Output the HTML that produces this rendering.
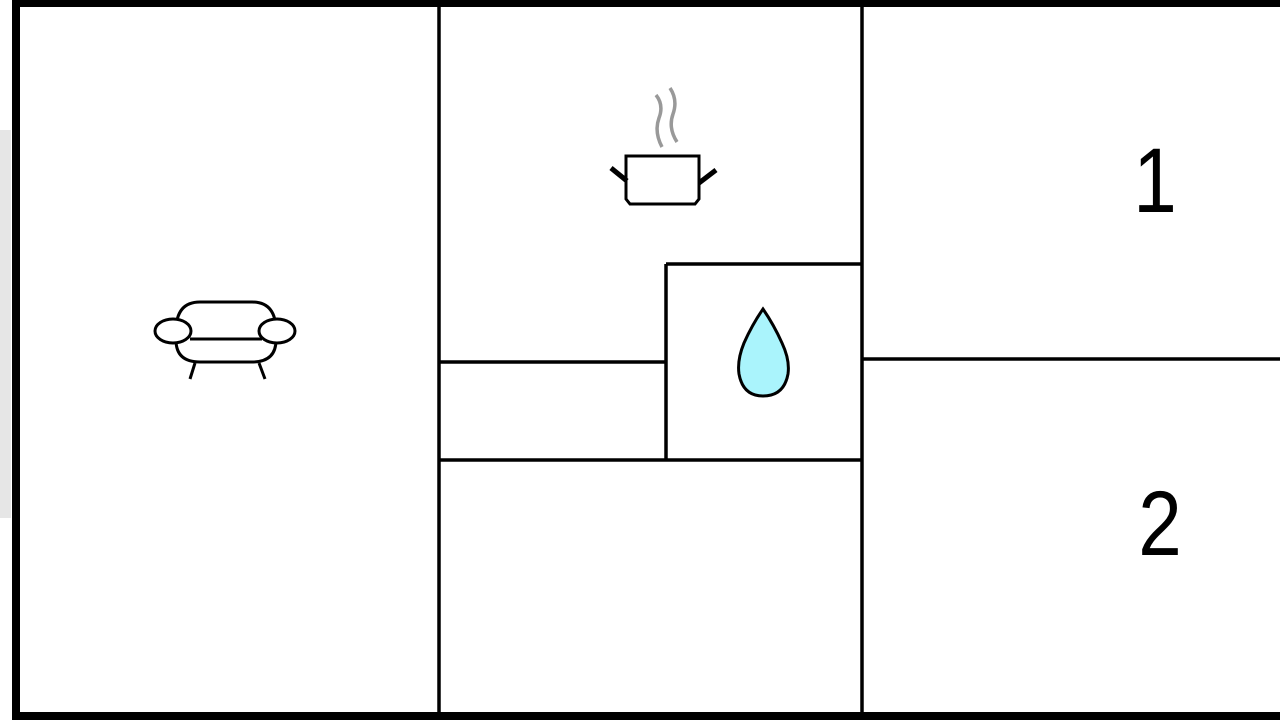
<!DOCTYPE html>
<html><head><meta charset="utf-8"><style>html,body{margin:0;padding:0;background:#fff;width:1280px;height:720px;overflow:hidden}</style></head>
<body>
<svg width="1280" height="720" viewBox="0 0 1280 720" xmlns="http://www.w3.org/2000/svg">
<rect x="0" y="0" width="1280" height="720" fill="#fff"/>
<rect x="0" y="130" width="11" height="388" fill="#e6e6e6"/>
<rect x="12" y="0" width="8" height="720" fill="#000"/>
<rect x="12" y="0" width="1268" height="7" fill="#000"/>
<rect x="12" y="712" width="1268" height="8" fill="#000"/>
<g stroke="#000" stroke-width="3.5" fill="none">
<line x1="439" y1="6" x2="439" y2="713"/>
<line x1="862" y1="6" x2="862" y2="713"/>
<line x1="439" y1="362" x2="666" y2="362"/>
<line x1="439" y1="460" x2="862" y2="460"/>
<line x1="666" y1="264" x2="666" y2="460"/>
<line x1="666" y1="264" x2="862" y2="264"/>
<line x1="862" y1="359" x2="1280" y2="359"/>
</g>
<g stroke="#000" stroke-width="3" fill="#fff">
<path d="M176 331 Q176 302 200 302 L252 302 Q276 302 276 331 L276 340 Q276 362 252 362 L200 362 Q176 362 176 340 Z"/>
<line x1="190" y1="339" x2="262" y2="339"/>
<ellipse cx="173" cy="331" rx="18" ry="12"/>
<ellipse cx="277" cy="331" rx="18" ry="12"/>
<line x1="195" y1="363" x2="190" y2="379"/>
<line x1="259" y1="363" x2="265" y2="379"/>
</g>
<g fill="none">
<path d="M656 95 Q664 105 659 118 Q654 132 662 147" stroke="#999" stroke-width="3.5"/>
<path d="M670 88 Q678 100 673 114 Q668 128 677 142" stroke="#999" stroke-width="3.5"/>
<path d="M626 156 L699 156 L699 199 L695 204 L630 204 L626 199 Z" stroke="#000" stroke-width="3" fill="#fff"/>
<line x1="611" y1="168" x2="627" y2="181" stroke="#000" stroke-width="5"/>
<line x1="716" y1="170" x2="699" y2="183" stroke="#000" stroke-width="5"/>
</g>
<path d="M763 309 Q752 325 744 343 Q737 360 739 374 Q743 396 763 396 Q784 396 788 374 Q790 360 782 343 Q774 325 763 309 Z" fill="#aaf4fc" stroke="#000" stroke-width="3"/>
<text transform="translate(1155 212) scale(0.85 1)" font-family="Liberation Sans, sans-serif" font-size="92" text-anchor="middle">1</text>
<text transform="translate(1160 555) scale(0.85 1)" font-family="Liberation Sans, sans-serif" font-size="92" text-anchor="middle">2</text>
</svg>
</body></html>
